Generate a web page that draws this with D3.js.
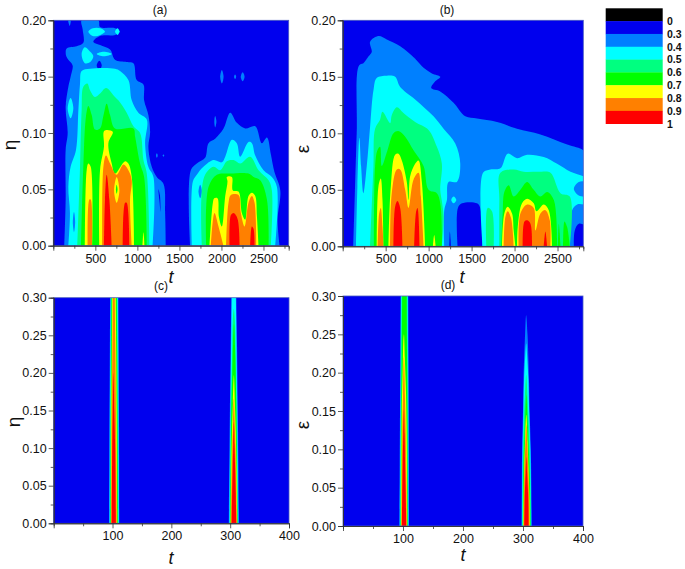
<!DOCTYPE html>
<html><head><meta charset="utf-8">
<style>html,body{margin:0;padding:0;background:#fff}svg{display:block}text{font-family:"Liberation Sans",Arial,sans-serif;fill:#111}</style>
<script src="https://cdn.jsdelivr.net/npm/d3@7"></script></head><body>
<script>
// contour level names, bottom to top
const levelLabels=["0","0.3","0.4","0.5","0.6","0.7","0.8","0.9","1"];
const levelColors=["#000000","#0000ee","#0080ff","#00ffff","#00ff80","#00ff00","#ffff00","#ff8000","#ff0000"];
const ticksLong=[500,1000,1500,2000,2500];
const ticksLongMinor=[250,750,1250,1750,2250,2750];
const ticksShort=[100,200,300,400];
const ticksShortMinor=[50,150,250,350];
const hTicks02=[0,.05,.1,.15,.2];
const hTicks02Minor=[.025,.075,.125,.175];
const hTicks03=[0,.05,.1,.15,.2,.25,.3];
const hTicks03Minor=[.025,.075,.125,.175,.225,.275];

// Contour regions as [band, [[t,value],...]], painted in order. band 1 is the background blue.
const ringsA=[
[2,[[131,0],[147,.041],[147,.085],[171,.1],[147,.123],[179,.141],[206,.15],[230,.16],[179,.165],[151,.169],[159,.175],[278,.177],[357,.18],[349,.192],[337,.2],[536,.2],[556,.194],[734,.193],[794,.19],[734,.187],[556,.186],[476,.181],[556,.178],[675,.174],[734,.165],[873,.163],[953,.162],[992,.147],[1072,.143],[1080,.129],[1131,.116],[1151,.1],[1131,.088],[1171,.07],[1231,.061],[1310,.055],[1330,.029],[1338,0]]],
[1,[[1250,.05],[1262,.04],[1275,.03],[1268,.045]]],
[1,[[516,.16],[548,.164],[576,.16],[548,.156]]],
[2,[[179,.2],[206,.2],[195,.195]]],
[2,[[1915,.11],[1925,.115],[1940,.11],[1925,.105]]],
[2,[[1985,.15],[2005,.156],[2025,.15],[2005,.144]]],
[2,[[2150,.15],[2162,.152],[2175,.15],[2162,.148]]],
[2,[[2230,.15],[2252,.154],[2275,.15],[2252,.146]]],
[2,[[1222,.08],[1231,.082],[1242,.08],[1231,.078]]],
[2,[[1300,.08],[1310,.081],[1320,.08],[1310,.079]]],
[2,[[1628,0],[1636,.067],[1707,.073],[1806,.078],[1846,.091],[1925,.095],[2025,.104],[2104,.118],[2183,.109],[2283,.104],[2402,.106],[2481,.091],[2541,.096],[2588,.081],[2628,.066],[2700,.049],[2668,.023],[2692,0]]],
[3,[[179,0],[198,.029],[179,.052],[206,.07],[270,.085],[298,.12],[318,.144],[337,.155],[437,.157],[734,.157],[794,.155],[893,.147],[933,.129],[1012,.118],[1112,.112],[1092,.091],[1131,.07],[1191,.061],[1183,0]]],
[3,[[171,.122],[206,.131],[238,.122],[206,.113]]],
[2,[[232,.021],[246,.03],[260,.021],[246,.012]]],
[3,[[337,.17],[375,.176],[440,.172],[476,.168],[440,.163],[375,.162]]],
[3,[[417,.19],[470,.193],[560,.193],[615,.19],[560,.187],[470,.186]]],
[3,[[734,.19],[765,.193],[786,.19],[765,.187]]],
[3,[[516,.17],[600,.172],[695,.17],[600,.168]]],
[3,[[1648,0],[1660,.057],[1707,.063],[1786,.07],[1906,.076],[2005,.074],[2045,.079],[2124,.094],[2183,.091],[2223,.079],[2322,.092],[2362,.091],[2402,.08],[2501,.067],[2600,.061],[2660,.052],[2640,0]]],
[2,[[1727,.048],[1747,.054],[1767,.048],[1747,.042]]],
[4,[[286,0],[318,.07],[337,.12],[357,.141],[405,.144],[437,.138],[496,.132],[556,.135],[627,.14],[734,.132],[774,.129],[873,.118],[953,.106],[1032,.1],[1072,.076],[1112,.064],[1143,0]]],
[4,[[1767,0],[1794,.061],[1906,.07],[1985,.067],[2064,.075],[2144,.076],[2223,.073],[2342,.079],[2442,.067],[2561,.058],[2600,.049],[2588,0]]],
[5,[[330,0],[357,.07],[389,.115],[417,.124],[457,.116],[496,.103],[556,.104],[595,.115],[635,.126],[675,.116],[734,.104],[953,.104],[973,.097],[1032,.073],[1080,.061],[1112,0]]],
[5,[[1818,0],[1846,.052],[1945,.063],[2104,.064],[2322,.064],[2382,.061],[2461,.058],[2541,.041],[2561,0]]],
[6,[[377,0],[397,.067],[417,.073],[445,.07],[465,0]]],
[6,[[548,0],[556,.067],[603,.088],[607,.102],[707,.101],[655,.091],[695,.073],[734,.064],[854,.075],[893,.073],[933,.061],[961,0]]],
[6,[[1060,0],[1072,.012],[1084,0]]],
[6,[[1858,0],[1898,.038],[1914,.042],[1953,.042],[1969,.026],[2005,.017],[2045,.044],[2072,.057],[2064,.061],[2124,.061],[2136,.049],[2203,.048],[2243,.029],[2283,.023],[2322,.044],[2362,.047],[2402,.044],[2422,.026],[2442,0]]],
[7,[[409,0],[429,.041],[445,.041],[461,0]]],
[7,[[584,0],[596,.07],[627,.08],[675,.073],[754,.063],[834,.072],[893,.067],[933,.058],[913,.041],[933,0]]],
[6,[[723,.049],[754,.061],[786,.049],[754,.038]]],
[5,[[745,.05],[754,.054],[764,.05],[754,.046]]],
[7,[[1874,0],[1917,.029],[1965,.017],[2025,0]]],
[7,[[2056,0],[2084,.038],[2112,.045],[2203,.045],[2231,.029],[2275,.017],[2322,.038],[2362,.044],[2394,.038],[2414,0]]],
[8,[[603,0],[615,.041],[635,.063],[667,.041],[695,0]]],
[8,[[826,0],[854,.038],[873,.038],[905,0]]],
[8,[[2096,0],[2112,.027],[2144,.029],[2191,.024],[2215,0]]],
[8,[[2342,0],[2362,.017],[2382,.015],[2394,0]]]
];
const ringsB=[
[2,[[124,0],[163,.1],[190,.16],[241,.162],[299,.168],[338,.172],[319,.181],[416,.186],[513,.183],[669,.177],[843,.166],[941,.158],[1038,.153],[1135,.15],[1077,.146],[1030,.14],[1135,.137],[1290,.127],[1427,.115],[1563,.113],[1796,.11],[2029,.104],[2301,.099],[2612,.09],[2800,.085],[2850,.08],[2850,0]]],
[1,[[1341,-.005],[1341,.034],[1388,.038],[1563,.038],[1601,.034],[1621,-.005]]],
[1,[[1240,0],[1247,.013],[1260,0]]],
[1,[[2690,0],[2701,.014],[2748,.02],[2850,.016],[2850,0]]],
[3,[[155,0],[171,.053],[194,.096],[214,.071],[241,.047],[280,.071],[319,.106],[358,.138],[396,.149],[513,.151],[610,.15],[669,.141],[843,.13],[1057,.115],[1174,.104],[1310,.091],[1368,.073],[1329,.057],[1232,.057],[1213,.041],[1182,.032],[1182,0]]],
[3,[[1263,.041],[1290,.044],[1322,.041],[1290,.038]]],
[3,[[1633,-.005],[1633,.065],[1718,.068],[1835,.069],[1920,.082],[2029,.078],[2146,.081],[2340,.079],[2495,.073],[2651,.066],[2800,.062],[2850,.06],[2850,.038],[2729,.037],[2670,.032],[2651,.017],[2643,0]]],
[2,[[2690,.051],[2748,.057],[2850,.056],[2850,.045],[2748,.045]]],
[4,[[319,0],[358,.071],[377,.104],[435,.112],[463,.119],[552,.109],[571,.116],[630,.123],[707,.118],[843,.11],[999,.103],[1096,.088],[1154,.073],[1135,.05],[1154,.04],[1174,.026],[1154,0]]],
[4,[[1823,0],[1823,.041],[1835,.065],[1990,.068],[2107,.066],[2301,.066],[2418,.065],[2534,.047],[2643,.044],[2643,0]]],
[4,[[1671,0],[1687,.034],[1737,.031],[1757,0]]],
[5,[[365,0],[377,.071],[404,.085],[435,.088],[455,.071],[521,.085],[591,.1],[649,.102],[727,.097],[824,.085],[941,.071],[999,.05],[1096,.047],[1135,.038],[1154,.012],[1154,0]]],
[5,[[1846,0],[1862,.029],[1881,.048],[1932,.054],[1990,.044],[2068,.05],[2146,.057],[2223,.05],[2301,.044],[2379,.048],[2457,.041],[2495,0]]],
[5,[[2503,0],[2515,.02],[2534,0]]],
[5,[[2565,0],[2581,.022],[2612,.017],[2643,0]]],
[6,[[396,0],[416,.053],[443,.06],[463,.041],[474,0]]],
[6,[[533,0],[560,.053],[610,.081],[649,.082],[688,.076],[746,.057],[766,.041],[785,.062],[843,.073],[882,.076],[921,.057],[960,0]]],
[6,[[1049,0],[1065,.01],[1081,0]]],
[6,[[1854,0],[1881,.029],[1920,.035],[1971,.029],[1990,.014],[2010,0]]],
[6,[[2029,0],[2037,.017],[2087,.038],[2146,.042],[2223,.038],[2254,.031],[2340,.037],[2398,.032],[2437,0]]],
[7,[[408,0],[424,.029],[443,.034],[463,.017],[474,0]]],
[7,[[552,0],[571,.047],[630,.068],[669,.068],[727,.05],[766,.034],[824,.059],[882,.065],[910,.044],[941,0]]],
[7,[[1874,0],[1893,.026],[1920,.031],[1959,.025],[1990,0]]],
[7,[[2048,0],[2068,.029],[2146,.037],[2223,.034],[2243,.014],[2301,.029],[2359,.032],[2410,.023],[2418,0]]],
[8,[[591,0],[610,.035],[637,.04],[669,.034],[696,0]]],
[8,[[832,0],[855,.031],[871,.034],[894,0]]],
[8,[[2095,0],[2115,.022],[2146,.023],[2185,.02],[2204,0]]],
[8,[[2340,0],[2359,.013],[2379,0]]]
];
const ringsC=[
[2,[[94,-.01],[94.4,.08],[94.8,.15],[95.4,.23],[96,.3],[96.6,.37],[109.4,.37],[110,.3],[110.6,.23],[111,.15],[111.3,.08],[111.5,-.01]]],
[3,[[95,-.01],[95.3,.08],[95.5,.15],[96.2,.23],[96.8,.3],[97.4,.37],[108.6,.37],[109.2,.3],[109.6,.23],[110,.15],[110.4,.08],[110.8,-.01]]],
[4,[[96,-.01],[96.2,.08],[96.5,.15],[97.2,.23],[97.8,.3],[98.4,.37],[107.6,.37],[108.2,.3],[108.6,.23],[109,.15],[109.4,.08],[109.8,-.01]]],
[5,[[96.7,-.01],[97,.08],[97.3,.15],[97.9,.23],[98.4,.3],[99,.37],[106.8,.37],[107.2,.3],[107.7,.23],[108.2,.15],[108.6,.08],[109,-.01]]],
[6,[[97.3,-.01],[97.6,.08],[98,.15],[98.9,.23],[99.6,.3],[100.2,.37],[105,.37],[105.5,.3],[106.3,.23],[107,.15],[107.5,.08],[108,-.01]]],
[7,[[97.8,-.01],[98.2,.08],[98.7,.15],[99.8,.23],[100.7,.3],[101.4,.37],[103.1,.37],[103.8,.3],[104.8,.23],[105.8,.15],[106.5,.08],[107.2,-.01]]],
[8,[[98.5,-.01],[99,.05],[99.5,.1],[100.5,.15],[102,.2],[103,.15],[104.5,.1],[105.2,.05],[105.8,-.01]]],
[2,[[297.5,-.01],[298.5,.08],[299.5,.15],[300.8,.23],[302,.3],[302.8,.37],[309.7,.37],[310.5,.3],[311.8,.23],[313,.15],[314,.08],[315,-.01]]],
[3,[[298.5,-.01],[299.5,.08],[300.5,.15],[301.6,.23],[302.7,.3],[303.5,.37],[309,.37],[309.7,.3],[310.8,.23],[312,.15],[313,.08],[314,-.01]]],
[4,[[299.5,-.01],[300.5,.08],[301.5,.15],[303,.22],[304.5,.27],[306.2,.285],[308,.27],[309.5,.22],[311,.15],[312,.08],[313,-.01]]],
[5,[[300,-.01],[301,.08],[302,.15],[303.6,.2],[305,.24],[306.5,.265],[308,.24],[309.3,.2],[310.5,.15],[311.5,.08],[312.5,-.01]]],
[6,[[300.6,-.01],[301.8,.07],[303,.12],[304.6,.16],[306.3,.197],[308,.16],[309.5,.12],[310.8,.07],[312,-.01]]],
[7,[[301,-.01],[302.2,.05],[303.5,.1],[305,.135],[306.3,.166],[307.6,.135],[309,.1],[310.3,.05],[311.5,-.01]]],
[8,[[302.5,-.01],[303.4,.04],[304.2,.07],[305.3,.105],[306.3,.135],[307.4,.105],[308.5,.07],[309.5,.04],[310.5,-.01]]]
];
const ringsD=[
[2,[[93.8,-.01],[94.4,.08],[95,.15],[95.5,.23],[96,.3],[96.6,.37],[108.4,.37],[108.8,.3],[109.2,.23],[109.5,.15],[109.7,.08],[109.8,-.01]]],
[3,[[94.6,-.01],[95.2,.08],[95.8,.15],[96.3,.23],[96.8,.3],[97.4,.37],[107.6,.37],[108,.3],[108.4,.23],[108.8,.15],[109,.08],[109.2,-.01]]],
[4,[[95.6,-.01],[96.1,.08],[96.6,.15],[97.1,.23],[97.6,.3],[98.2,.37],[106.8,.37],[107.2,.3],[107.6,.23],[108,.15],[108.2,.08],[108.4,-.01]]],
[5,[[96.2,-.01],[96.7,.08],[97.2,.15],[97.9,.23],[98.6,.3],[99.2,.37],[105.4,.37],[106,.3],[106.6,.23],[107.2,.15],[107.4,.08],[107.6,-.01]]],
[6,[[96.8,-.01],[97.4,.08],[98,.15],[99.6,.21],[100.5,.24],[101.6,.25],[103,.22],[104.8,.18],[106,.13],[106.6,.07],[107,-.01]]],
[7,[[97.4,-.01],[98,.06],[98.8,.12],[100,.17],[101.5,.22],[103.2,.17],[104.5,.12],[105.6,.06],[106.4,-.01]]],
[8,[[98,-.01],[98.7,.04],[99.5,.08],[100.5,.12],[101.6,.152],[102.7,.12],[103.5,.08],[104.6,.04],[105.5,-.01]]],
[2,[[297.4,-.01],[298,.05],[298.5,.1],[300,.15],[300.8,.19],[303.5,.25],[305.2,.275],[307.5,.25],[310,.19],[311,.15],[313,.1],[314,.05],[314.6,-.01]]],
[3,[[298.2,-.01],[298.8,.05],[299.4,.1],[300.8,.15],[301.8,.19],[304,.225],[305.3,.238],[306.6,.225],[309,.19],[310.2,.15],[312.2,.1],[313.2,.05],[313.8,-.01]]],
[4,[[299,-.01],[299.6,.05],[300.2,.1],[301.6,.14],[303.2,.17],[305.3,.197],[307.4,.17],[309.2,.14],[311.2,.1],[312.4,.05],[313,-.01]]],
[5,[[299.8,-.01],[300.4,.05],[301,.08],[302.4,.115],[303.8,.145],[305.5,.171],[307.2,.145],[308.8,.115],[310.4,.08],[311.7,.05],[312.4,-.01]]],
[6,[[300.4,-.01],[301,.035],[301.8,.07],[303.4,.11],[305.5,.145],[307.6,.11],[309.4,.07],[310.8,.035],[311.5,-.01]]],
[7,[[301,-.01],[301.6,.035],[302.4,.07],[303.9,.105],[305.5,.132],[307.1,.105],[308.8,.07],[310.2,.035],[310.8,-.01]]],
[8,[[302,-.01],[302.6,.025],[303.4,.05],[304.5,.07],[305.6,.09],[306.8,.07],[308,.05],[309,.025],[309.5,-.01]]]
];

const W=685,H=569;
const svg=d3.select("body").append("svg").attr("width",W).attr("height",H);
const defs=svg.append("defs");
defs.append("filter").attr("id","soft").attr("x","-5%").attr("y","-5%").attr("width","110%").attr("height","110%")
  .append("feGaussianBlur").attr("stdDeviation",0.6);

const panels=[
 {id:"a",title:"(a)",rings:ringsA,xd:[0,2800],yd:[0,.2],x:[53.3,288.7],y:[245.7,20.3],xt:ticksLong,xm:ticksLongMinor,yt:hTicks02,ym:hTicks02Minor,yl:"η",tp:[160,14],xl:[171,283],ylp:[11,145]},
 {id:"b",title:"(b)",rings:ringsB,xd:[0,2800],yd:[0,.2],x:[342.7,583.3],y:[246.3,20.3],xt:ticksLong,xm:ticksLongMinor,yt:hTicks02,ym:hTicks02Minor,yl:"ε",tp:[447,14],xl:[462,283],ylp:[304,149]},
 {id:"c",title:"(c)",rings:ringsC,xd:[0,400],yd:[0,.3],x:[53.7,289],y:[523.3,297.7],xt:ticksShort,xm:ticksShortMinor,yt:hTicks03,ym:hTicks03Minor,yl:"η",tp:[161,290],xl:[171,564],ylp:[15,422]},
 {id:"d",title:"(d)",rings:ringsD,xd:[0,400],yd:[0,.3],x:[343,583],y:[526,296],xt:ticksShort,xm:ticksShortMinor,yt:hTicks03,ym:hTicks03Minor,yl:"ε",tp:[448,289],xl:[463,561],ylp:[304,425]}
];

panels.forEach(p=>{
  const x=d3.scaleLinear().domain(p.xd).range(p.x);
  const y=d3.scaleLinear().domain(p.yd).range(p.y);
  const g=svg.append("g");
  defs.append("clipPath").attr("id","clip-"+p.id).append("rect")
    .attr("x",p.x[0]).attr("y",p.y[1]).attr("width",p.x[1]-p.x[0]).attr("height",p.y[0]-p.y[1]);
  const plot=g.append("g").attr("clip-path","url(#clip-"+p.id+")");
  const inner=plot.append("g").attr("filter","url(#soft)");
  inner.append("rect").attr("x",p.x[0]-5).attr("y",p.y[1]-5)
    .attr("width",p.x[1]-p.x[0]+10).attr("height",p.y[0]-p.y[1]+10).attr("fill",levelColors[1]);
  const lineOpen=d3.line().x(d=>x(d[0])).y(d=>y(d[1])).curve(d3.curveCatmullRom.alpha(.5));
  const lineClosed=d3.line().x(d=>x(d[0])).y(d=>y(d[1])).curve(d3.curveCatmullRomClosed.alpha(.5));
  inner.selectAll("path").data(p.rings).join("path")
    .attr("d",d=>{
      const r=d[1], onBase=r[0][1]<=0&&r[r.length-1][1]<=0;
      return onBase?lineOpen(r)+"Z":lineClosed(r);
    })
    .attr("fill",d=>levelColors[d[0]]);

  // frame
  g.append("rect").attr("x",p.x[0]).attr("y",p.y[1]).attr("width",p.x[1]-p.x[0]).attr("height",p.y[0]-p.y[1])
    .attr("fill","none").attr("stroke","#4a5cc0").attr("stroke-width",.8);

  // axes
  const ax=(gen,tr)=>{
    const a=g.append("g").attr("transform",tr).call(gen);
    a.select(".domain").attr("stroke","#333").attr("stroke-width",.8);
    a.selectAll("line").attr("stroke","#333").attr("stroke-width",.8);
    return a;
  };
  ax(d3.axisBottom(x).tickValues(p.xm).tickSize(3).tickFormat(""),`translate(0,${p.y[0]})`);
  const bx=ax(d3.axisBottom(x).tickValues(p.xt).tickSize(5).tickPadding(3).tickFormat(d3.format("d")),`translate(0,${p.y[0]})`);
  bx.selectAll("text").attr("font-size",12.5).attr("font-family",'"Liberation Sans",Arial,sans-serif').attr("fill","#111");
  ax(d3.axisLeft(y).tickValues(p.ym).tickSize(3).tickFormat(""),`translate(${p.x[0]},0)`);
  const by=ax(d3.axisLeft(y).tickValues(p.yt).tickSize(5).tickPadding(2).tickFormat(d3.format(".2f")),`translate(${p.x[0]},0)`);
  by.selectAll("text").attr("font-size",12.5).attr("font-family",'"Liberation Sans",Arial,sans-serif').attr("fill","#111");

  g.append("text").attr("x",p.tp[0]).attr("y",p.tp[1]).attr("text-anchor","middle").attr("font-size",12).text(p.title);
  g.append("text").attr("x",p.xl[0]).attr("y",p.xl[1]).attr("text-anchor","middle").attr("font-size",18).attr("font-style","italic").text("t");
  g.append("text").attr("transform",`translate(${p.ylp[0]},${p.ylp[1]}) rotate(-90)`).attr("text-anchor","middle")
    .attr("dominant-baseline","middle").attr("font-size",19).text(p.yl);
});

// colour key
const key=d3.scaleBand().domain(levelLabels).range([8.3,123.7]);
const keyG=svg.append("g");
keyG.selectAll("rect").data(levelLabels).join("rect")
  .attr("x",605.7).attr("width",57).attr("y",d=>key(d)).attr("height",key.bandwidth()+.3)
  .attr("fill",(d,i)=>levelColors[i]);
keyG.selectAll("text").data(levelLabels).join("text")
  .attr("x",667).attr("y",d=>key(d)+key.bandwidth()+3.8)
  .attr("font-size",10.5).attr("font-weight","bold").text(d=>d);
</script></body></html>
